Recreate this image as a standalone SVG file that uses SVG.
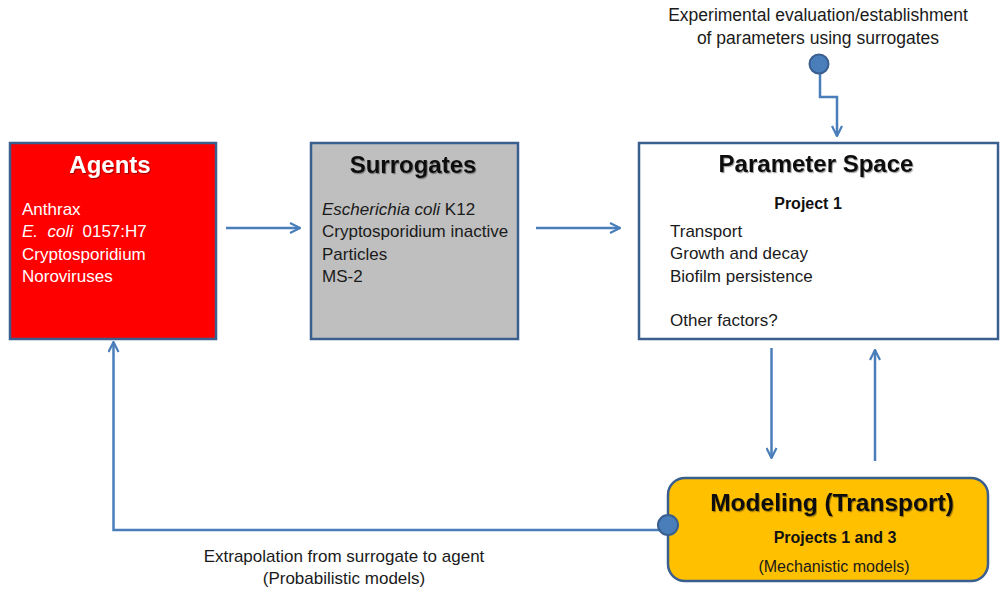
<svg xmlns="http://www.w3.org/2000/svg" width="1000" height="591" viewBox="0 0 1000 591">
<style>
.box{stroke:#3A5F8E;stroke-width:2.5}
.t{font-family:"Liberation Sans",Arial,sans-serif;font-size:17px;fill:#1a1a1a}
.title{font-family:"Liberation Sans",Arial,sans-serif;font-size:24px;font-weight:bold;fill:#111}
.sub{font-family:"Liberation Sans",Arial,sans-serif;font-size:16px;font-weight:bold;fill:#111}
.con{fill:none;stroke:#4A7EBB;stroke-width:2.5}
.dot{fill:#4A7EBB;stroke:#3A5F8E;stroke-width:2}
</style>
<defs>
<marker id="arr" viewBox="0 0 12 12" refX="11" refY="6" markerWidth="12" markerHeight="12" markerUnits="userSpaceOnUse" orient="auto">
<path d="M1,1 L11,6 L1,11" fill="none" stroke="#4A7EBB" stroke-width="2.2"/>
</marker>
<filter id="sh" x="-10%" y="-20%" width="130%" height="150%">
<feDropShadow dx="1" dy="1.2" stdDeviation="0.6" flood-color="#000" flood-opacity="0.35"/>
</filter>
</defs>

<g id="agents">
<rect class="box" x="10" y="143" width="206" height="196" fill="#FF0000"/>
<text class="title" x="110" y="173" text-anchor="middle" style="fill:#fff" filter="url(#sh)">Agents</text>
<text class="t" style="fill:#fff" x="22" y="215">Anthrax</text>
<text class="t" style="fill:#fff;white-space:pre" x="22" y="237"><tspan font-style="italic">E.  coli</tspan>  0157:H7</text>
<text class="t" style="fill:#fff" x="22" y="260">Cryptosporidium</text>
<text class="t" style="fill:#fff" x="22" y="282">Noroviruses</text>
</g>

<g id="surrogates">
<rect class="box" x="311" y="143" width="207" height="196" fill="#BFBFBF"/>
<text class="title" x="413" y="173" text-anchor="middle" filter="url(#sh)">Surrogates</text>
<text class="t" x="322" y="215"><tspan font-style="italic">Escherichia coli</tspan> K12</text>
<text class="t" x="322" y="237">Cryptosporidium inactive</text>
<text class="t" x="322" y="260">Particles</text>
<text class="t" x="322" y="282">MS-2</text>
</g>

<g id="parameter-space">
<rect class="box" x="639" y="143" width="359" height="196" fill="#fff"/>
<text class="title" x="816" y="172" text-anchor="middle" filter="url(#sh)">Parameter Space</text>
<text class="sub" x="808" y="209" text-anchor="middle">Project 1</text>
<text class="t" x="670" y="237">Transport</text>
<text class="t" x="670" y="259">Growth and decay</text>
<text class="t" x="670" y="282">Biofilm persistence</text>
<text class="t" x="670" y="326">Other factors?</text>
</g>

<g id="modeling">
<rect class="box" x="668" y="478" width="320" height="103" rx="17" ry="17" fill="#FFC000"/>
<text class="title" x="832" y="511" text-anchor="middle" filter="url(#sh)" style="font-size:24.5px">Modeling (Transport)</text>
<text class="sub" x="835" y="543" text-anchor="middle">Projects 1 and 3</text>
<text class="t" x="834" y="572" text-anchor="middle" style="font-size:16px">(Mechanistic models)</text>
</g>

<g id="experimental-label">
<text class="t" x="818" y="21" text-anchor="middle" style="font-size:17.5px">Experimental evaluation/establishment</text>
<text class="t" x="818" y="44" text-anchor="middle" style="font-size:17.5px">of parameters using surrogates</text>
</g>

<g id="extrapolation-label">
<text class="t" x="344" y="562" text-anchor="middle">Extrapolation from surrogate to agent</text>
<text class="t" x="344" y="584" text-anchor="middle">(Probabilistic models)</text>
</g>

<g id="connectors">
<path class="con" d="M226,228 L300,228" marker-end="url(#arr)"/>
<path class="con" d="M536,228 L620,228" marker-end="url(#arr)"/>
<path class="con" d="M820,65 L820,97 L837,97 L837,136" marker-end="url(#arr)"/>
<circle class="dot" cx="819" cy="64" r="9.5"/>
<path class="con" d="M771.5,348 L771.5,458" marker-end="url(#arr)"/>
<path class="con" d="M875,461 L875,350" marker-end="url(#arr)"/>
<path class="con" d="M668,530 L113.5,530 L113.5,342" marker-end="url(#arr)"/>
<circle class="dot" cx="668" cy="525" r="10"/>
</g>
</svg>
